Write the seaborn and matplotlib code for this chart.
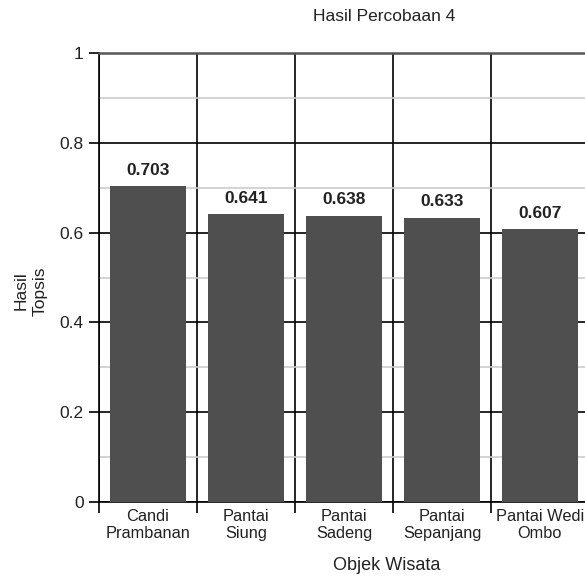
import matplotlib
matplotlib.use("Agg")
import matplotlib.pyplot as plt
from matplotlib.ticker import FixedLocator
import seaborn as sns

objek = ["Candi\nPrambanan", "Pantai\nSiung", "Pantai\nSadeng",
         "Pantai\nSepanjang", "Pantai Wedi\nOmbo"]
hasil = [0.703, 0.641, 0.638, 0.633, 0.607]
y_ticks = [0, 0.2, 0.4, 0.6, 0.8, 1]
y_tick_labels = ["0", "0.2", "0.4", "0.6", "0.8", "1"]

sns.set_theme(style="white")
plt.rcParams["font.family"] = ["Liberation Sans", "DejaVu Sans"]
text_color = "#222222"

W, H = 585, 576
fig = plt.figure(figsize=(W / 100, H / 100), dpi=100)
ax = fig.add_axes([99 / W, (H - 502) / H, 490 / W, 449 / H])

sns.barplot(x=objek, y=hasil, color="#4f4f4f", width=0.77, saturation=1,
            ax=ax, zorder=3)
for p in ax.patches:
    p.set_edgecolor("none")

ax.set_xlim(-0.5, len(objek) - 0.5)
ax.set_ylim(0, 1)

# category separators as minor x ticks with grid lines
ax.xaxis.set_minor_locator(FixedLocator([i - 0.5 for i in range(len(objek) + 1)]))
ax.tick_params(axis="x", which="major", length=0, pad=5, labelsize=11.8,
               labelcolor=text_color)
ax.tick_params(axis="x", which="minor", length=8, width=1.2, color="black",
               direction="out", bottom=True)
for lbl in ax.get_xticklabels():
    lbl.set_linespacing(1.15)
ax.grid(axis="x", which="minor", color="black", linewidth=1.2)
ax.grid(axis="x", which="major", visible=False)

ax.set_yticks(y_ticks)
ax.set_yticklabels(y_tick_labels)
ax.yaxis.set_minor_locator(FixedLocator([0.1, 0.3, 0.5, 0.7, 0.9]))
ax.tick_params(axis="y", which="major", length=7, width=1.2, color="black",
               direction="out", left=True, pad=4, labelsize=12.5,
               labelcolor=text_color)
ax.tick_params(axis="y", which="minor", length=0)
ax.grid(axis="y", which="major", color="black", linewidth=1.2)
ax.grid(axis="y", which="minor", color="#cccccc", linewidth=1.2)
ax.set_axisbelow(True)

ax.spines["right"].set_visible(False)
ax.spines["top"].set_color("#555555")
ax.spines["top"].set_linewidth(1.8)
for side in ["left", "bottom"]:
    ax.spines[side].set_color("black")
    ax.spines[side].set_linewidth(1.2)

ax.bar_label(ax.containers[0], labels=[f"{v:.3f}" for v in hasil],
             padding=6, fontsize=12.5, fontweight="bold", color=text_color)

ax.set_xlabel("Objek Wisata", fontsize=13, color=text_color)
ax.xaxis.set_label_coords(0.588, -0.122)
ax.set_ylabel("Hasil\nTopsis", fontsize=12.5, color=text_color,
              linespacing=1.35)
ax.yaxis.set_label_coords(-0.104, 0.47)
ax.set_title("Hasil Percobaan 4", fontsize=12.5, color=text_color, pad=23,
             x=0.582)

fig.savefig("out.png", dpi=100)
